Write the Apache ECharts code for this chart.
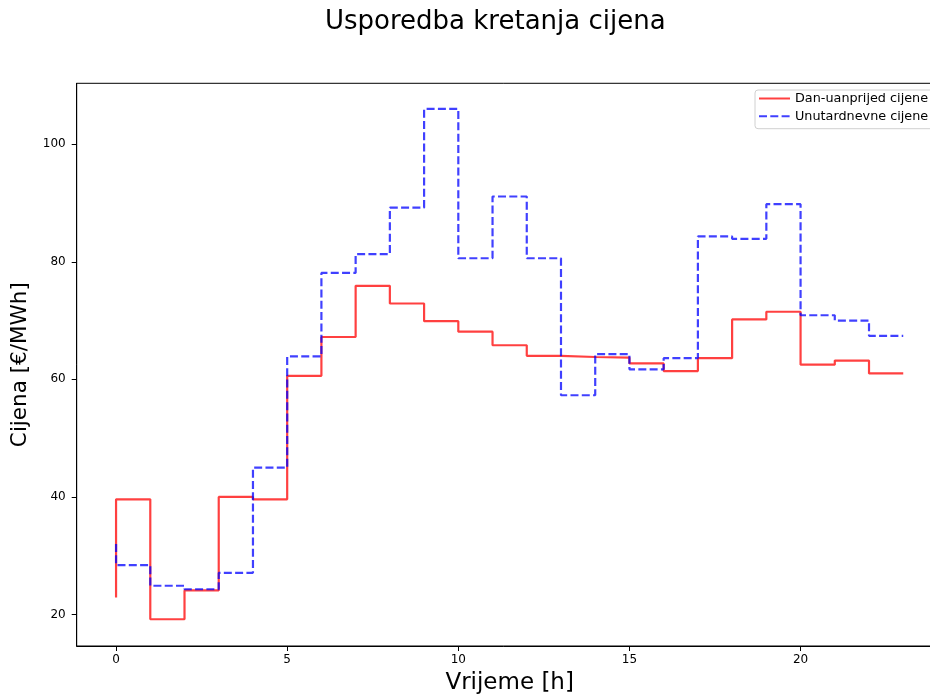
<!DOCTYPE html>
<html>
<head>
<meta charset="utf-8">
<script src="https://cdn.jsdelivr.net/npm/echarts@6/dist/echarts.min.js"></script>
<style>html,body{margin:0;padding:0;background:#fff;}#c{width:930px;height:698px;}</style>
</head>
<body>
<div id="c"></div>
<script>
const hours = [0,1,2,3,4,5,6,7,8,9,10,11,12,13,14,15,16,17,18,19,20,21,22,23];
const dayAhead = [22.9,39.6,19.2,24.1,40.0,39.6,60.6,67.2,75.9,72.9,69.9,68.1,65.8,64.0,63.8,63.7,62.7,61.4,63.6,70.2,71.5,62.5,63.2,61.0];
const intraday = [32.0,28.4,24.9,24.3,27.1,45.0,63.9,78.1,81.3,89.2,106.0,80.6,91.1,80.6,57.3,64.3,61.7,63.6,84.3,83.9,89.8,70.9,70.0,67.4];
const xTicks = [0,5,10,15,20];
const yTicks = [20,40,60,80,100];
const seriesNames = ['Dan-uanprijed cijene','Unutardnevne cijene'];
const titleText = 'Usporedba kretanja cijena';
const xName = 'Vrijeme [h]';
const yName = 'Cijena [€/MWh]';

const FONT = 'DejaVu Sans';
const chart = echarts.init(document.getElementById('c'), null, {renderer:'canvas'});
const pairs = (ys) => hours.map((h,i)=>[h, ys[i]]);

chart.setOption({
  animation:false,
  backgroundColor:'#fff',
  textStyle:{fontFamily:FONT},
  title:{text:titleText, left:320, top:4,
    textStyle:{fontFamily:FONT, fontSize:26, fontWeight:'normal', color:'#000'}},
  legend:{
    orient:'vertical', left:755, top:90,
    padding:[2,8,6,3], itemGap:4.7, itemWidth:31, itemHeight:14,
    borderColor:'#d0d0d0', borderWidth:1, borderRadius:3,
    backgroundColor:'rgba(255,255,255,0.8)',
    itemStyle:{opacity:0},
    textStyle:{fontFamily:FONT, fontSize:12.8, color:'#000'},
    data:seriesNames
  },
  grid:{left:76.7, top:83.3, width:865.9, height:562.7, outerBoundsMode:'none', containLabel:false,
    show:true, borderColor:'#000', borderWidth:1, backgroundColor:'transparent'},
  xAxis:{
    type:'value', min:-1.15, max:24.15,
    name:xName, nameLocation:'middle', nameGap:26,
    nameTextStyle:{fontFamily:FONT, fontSize:23, color:'#000'},
    axisLine:{show:true, onZero:false, lineStyle:{color:'#000', width:1}},
    axisTick:{show:true, length:5, lineStyle:{color:'#000'}, customValues:xTicks},
    axisLabel:{fontFamily:FONT, fontSize:12, color:'#000', margin:8, customValues:xTicks},
    splitLine:{show:false}
  },
  yAxis:{
    type:'value', min:14.65, max:110.35,
    name:yName, nameLocation:'middle', nameGap:43,
    nameTextStyle:{fontFamily:FONT, fontSize:21.5, color:'#000'},
    axisLine:{show:true, onZero:false, lineStyle:{color:'#000', width:1}},
    axisTick:{show:true, length:5, lineStyle:{color:'#000'}, customValues:yTicks},
    axisLabel:{fontFamily:FONT, fontSize:12, color:'#000', margin:11, customValues:yTicks},
    splitLine:{show:false}
  },
  series:[
    {name:seriesNames[0], type:'line', step:'start', symbol:'none', data:pairs(dayAhead),
     itemStyle:{color:'rgba(255,0,0,0.75)'},
     lineStyle:{color:'rgba(255,0,0,0.75)', width:2.2}},
    {name:seriesNames[1], type:'line', step:'start', symbol:'none', data:pairs(intraday),
     itemStyle:{color:'rgba(0,0,255,0.75)'},
     lineStyle:{color:'rgba(0,0,255,0.75)', width:2.2, type:[8,3.3]}}
  ]
});
</script>
</body>
</html>
